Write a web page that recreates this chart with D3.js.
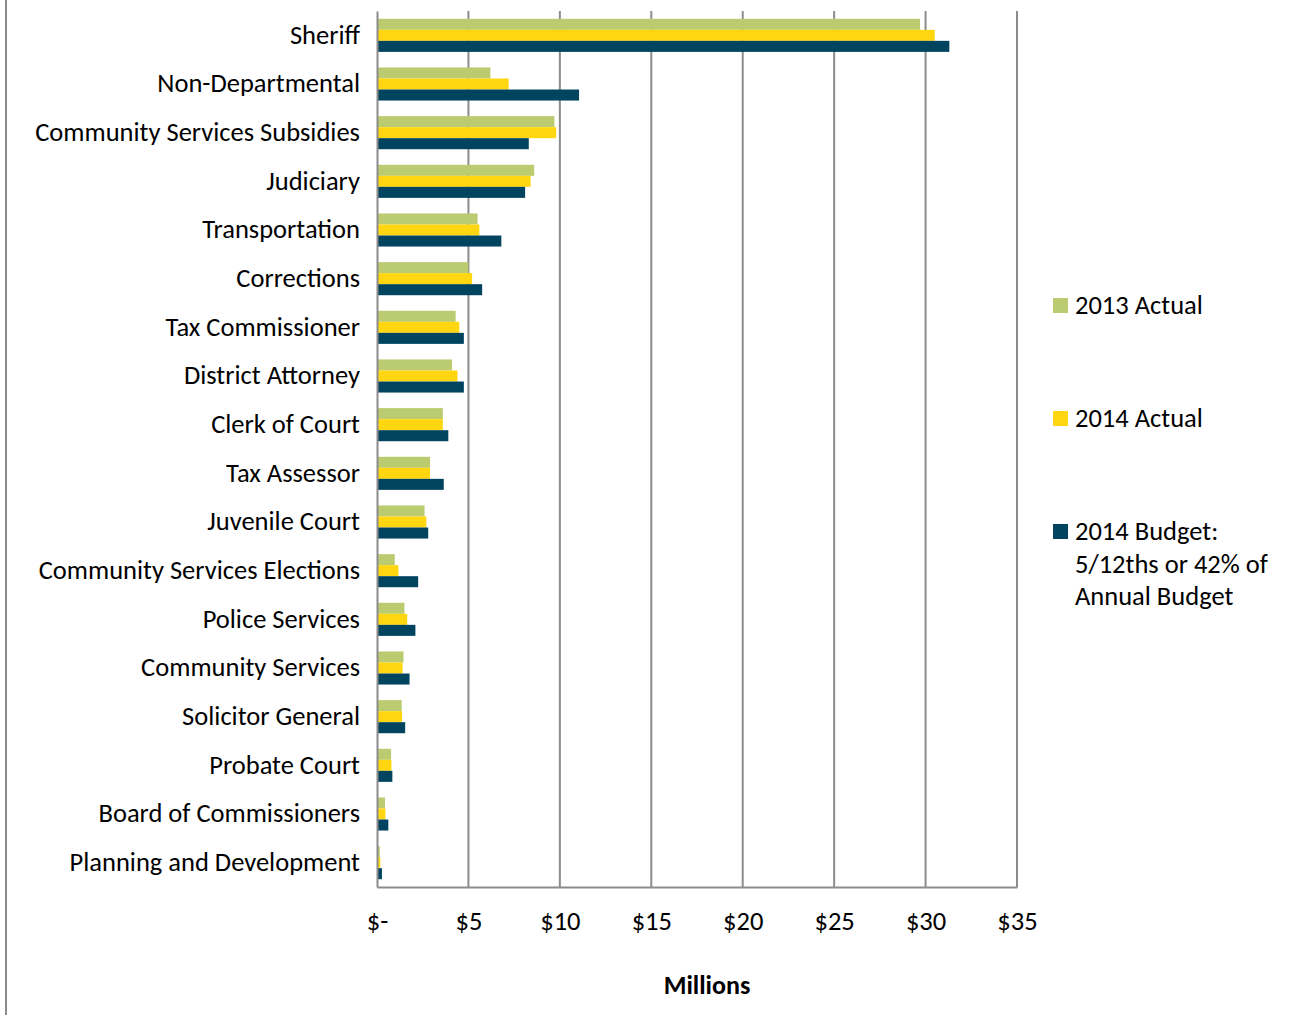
<!DOCTYPE html>
<html>
<head>
<meta charset="utf-8">
<script src="https://cdn.jsdelivr.net/npm/d3@7"></script>
<style>
  html, body { margin: 0; padding: 0; background: #fff; }
  svg { display: block; }
  svg text { font-family: Carlito, Calibri, Lato, "Open Sans", sans-serif; }
</style>
</head>
<body>
<svg id="chart" width="1291" height="1015"></svg>
<script>
// Departments, top to bottom
const categories = [
  "Sheriff", "Non-Departmental", "Community Services Subsidies", "Judiciary",
  "Transportation", "Corrections", "Tax Commissioner", "District Attorney",
  "Clerk of Court", "Tax Assessor", "Juvenile Court", "Community Services Elections",
  "Police Services", "Community Services", "Solicitor General", "Probate Court",
  "Board of Commissioners", "Planning and Development"
];

// Spending in millions of dollars
const actual2013 = [29.7, 6.2, 9.7, 8.6, 5.5, 5.0, 4.3, 4.1, 3.6, 2.9, 2.6, 0.97, 1.5, 1.45, 1.35, 0.77, 0.44, 0.15];
const actual2014 = [30.5, 7.2, 9.8, 8.4, 5.6, 5.2, 4.5, 4.4, 3.6, 2.9, 2.7, 1.17, 1.65, 1.4, 1.37, 0.79, 0.46, 0.18];
const budget2014 = [31.3, 11.05, 8.3, 8.1, 6.8, 5.75, 4.75, 4.75, 3.9, 3.65, 2.8, 2.25, 2.1, 1.78, 1.54, 0.84, 0.62, 0.27];

const seriesNames = ["2013 Actual", "2014 Actual", "2014 Budget: 5/12ths or 42% of Annual Budget"];
const seriesColors = ["#bbcc70", "#ffd60f", "#00445f"];

const tickValues = [0, 5, 10, 15, 20, 25, 30, 35];
const tickLabels = ["$-", "$5", "$10", "$15", "$20", "$25", "$30", "$35"];
const axisTitle = "Millions";

const FONT_SIZE = 26.5;

const svg = d3.select("#chart");
const plot = { left: 377, right: 1017, top: 11, bottom: 887 };

const x = d3.scaleLinear().domain([0, 35]).range([plot.left, plot.right]);
const y = d3.scaleBand().domain(categories).range([plot.top, plot.bottom]).paddingInner(0.32).paddingOuter(0.16);
const sub = d3.scaleBand().domain([0, 1, 2]).range([0, y.bandwidth()]);

// Outer chart border on the left
svg.append("line")
  .attr("x1", 6).attr("x2", 6).attr("y1", 0).attr("y2", 1015)
  .attr("stroke", "#8a8a8a").attr("stroke-width", 2);

// Vertical gridlines
svg.append("g").selectAll("line")
  .data(tickValues.slice(1))
  .join("line")
  .attr("x1", d => x(d)).attr("x2", d => x(d))
  .attr("y1", plot.top).attr("y2", plot.bottom)
  .attr("stroke", "#8c8c8c").attr("stroke-width", 2);

// Bars
const series = [actual2013, actual2014, budget2014];
const groups = svg.append("g").selectAll("g")
  .data(categories)
  .join("g")
  .attr("transform", d => `translate(0,${y(d)})`);

groups.selectAll("rect")
  .data((d, i) => series.map((s, k) => ({ k, v: s[i] })))
  .join("rect")
  .attr("x", x(0))
  .attr("y", d => sub(d.k))
  .attr("width", d => x(d.v) - x(0))
  .attr("height", sub.bandwidth())
  .attr("fill", d => seriesColors[d.k]);

// Category axis
const yAxis = svg.append("g")
  .attr("transform", `translate(${plot.left},0)`)
  .call(d3.axisLeft(y).tickSize(0).tickPadding(17))
  .attr("font-family", null).attr("font-size", null);
yAxis.select(".domain").attr("stroke", "#8c8c8c").attr("stroke-width", 2);
yAxis.selectAll("text").attr("font-size", FONT_SIZE).attr("fill", "#000");

// Value axis
const xAxis = svg.append("g")
  .attr("transform", `translate(0,${plot.bottom})`)
  .call(d3.axisBottom(x).tickValues(tickValues).tickFormat((d, i) => tickLabels[i]).tickSize(0).tickPadding(24))
  .attr("font-family", null).attr("font-size", null);
xAxis.select(".domain").attr("stroke", "#8c8c8c").attr("stroke-width", 2);
xAxis.selectAll("text").attr("font-size", FONT_SIZE).attr("fill", "#000");

svg.append("text")
  .attr("x", (plot.left + plot.right) / 2 + 10)
  .attr("y", 994)
  .attr("text-anchor", "middle")
  .attr("font-size", 26)
  .attr("font-weight", "bold")
  .text(axisTitle);

// Legend
const legendLines = [["2013 Actual"], ["2014 Actual"], ["2014 Budget:", "5/12ths or 42% of", "Annual Budget"]];
const legendY = [305, 418, 531];
const legend = svg.append("g");
legendLines.forEach((lines, k) => {
  legend.append("rect")
    .attr("x", 1053).attr("y", legendY[k] - 7)
    .attr("width", 15).attr("height", 15)
    .attr("fill", seriesColors[k]);
  const t = legend.append("text")
    .attr("x", 1075).attr("y", legendY[k] + 9)
    .attr("font-size", FONT_SIZE);
  lines.forEach((s, j) => {
    t.append("tspan").attr("x", 1075).attr("dy", j === 0 ? 0 : 32.5).text(s);
  });
});
</script>
</body>
</html>
